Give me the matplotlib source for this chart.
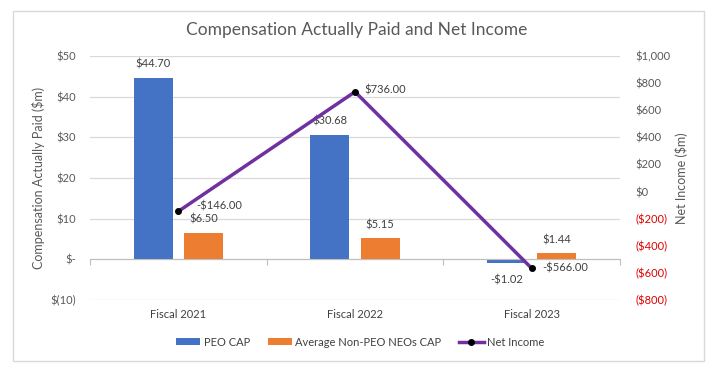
import matplotlib.pyplot as plt
import numpy as np
from matplotlib.patches import Rectangle

plt.rcParams['font.family'] = ['Lato', 'DejaVu Sans']

categories = ['Fiscal 2021', 'Fiscal 2022', 'Fiscal 2023']
peo_cap = [44.70, 30.68, -1.02]
neo_cap = [6.50, 5.15, 1.44]
net_income = [-146.00, 736.00, -566.00]

left_ticks = [-10, 0, 10, 20, 30, 40, 50]
left_labels = ['$(10)', '$-', '$10', '$20', '$30', '$40', '$50']
right_ticks = [-800, -600, -400, -200, 0, 200, 400, 600, 800, 1000]
right_labels = ['($800)', '($600)', '($400)', '($200)', '$0', '$200', '$400', '$600', '$800', '$1,000']

blue = '#4472C4'
orange = '#ED7D31'
purple = '#7030A0'
grey = '#595959'
red = '#E00000'

fig = plt.figure(figsize=(7.14, 3.68), dpi=100)
fig.patches.append(Rectangle((13 / 714, 1 - 361 / 368), 691 / 714, 350 / 368,
                             transform=fig.transFigure, fill=False,
                             edgecolor='#D9D9D9', lw=1))
ax1 = fig.add_axes([90 / 714, 1 - 300 / 368, 530 / 714, 244 / 368])
ax2 = ax1.twinx()

x = np.arange(len(categories))
w = 0.22
off = 0.142

b1 = ax1.bar(x - off, peo_cap, w, color=blue, label='PEO CAP', zorder=2)
b2 = ax1.bar(x + off, neo_cap, w, color=orange, label='Average Non-PEO NEOs CAP', zorder=2)
ln, = ax2.plot(x, net_income, color=purple, lw=2.5, marker='o', ms=4,
               mfc='black', mec='black', label='Net Income', zorder=3)

# data labels
for xi, v in zip(x - off, peo_cap):
    txt = '-$%.2f' % abs(v) if v < 0 else '$%.2f' % v
    ax1.annotate(txt, (xi, v), xytext=(0, 10 if v >= 0 else -12), textcoords='offset points',
                 ha='center', va='center', fontsize=8, color='#404040')
for xi, v in zip(x + off, neo_cap):
    ax1.annotate('$%.2f' % v, (xi, v), xytext=(0, 10), textcoords='offset points',
                 ha='center', va='center', fontsize=8, color='#404040')
ni_offsets = [(13, 4), (7, 1), (8, 0)]
for xi, v, o in zip(x, net_income, ni_offsets):
    txt = '-$%.2f' % abs(v) if v < 0 else '$%.2f' % v
    ax2.annotate(txt, (xi, v), xytext=o, textcoords='offset points',
                 ha='left', va='center', fontsize=8, color='#404040')

# axes
ax1.set_xlim(-0.5, 2.5)
ax1.set_ylim(-10, 50)
ax2.set_ylim(-800, 1000)
ax1.set_yticks(left_ticks)
ax1.set_yticklabels(left_labels)
ax2.set_yticks(right_ticks)
ax2.set_yticklabels(right_labels)
for lbl, v in zip(ax2.get_yticklabels(), right_ticks):
    lbl.set_color(red if v < 0 else grey)
ax1.tick_params(axis='y', length=0, pad=10, labelsize=8, labelcolor=grey)
ax2.tick_params(axis='y', length=0, pad=11, labelsize=8)
ax1.grid(axis='y', color='#D9D9D9', lw=0.9, zorder=0)
ax1.set_axisbelow(True)
for a in (ax1, ax2):
    for s in a.spines.values():
        s.set_visible(False)

# category axis at zero with division ticks
ax1.spines['bottom'].set_visible(True)
ax1.spines['bottom'].set_position(('data', 0))
ax1.spines['bottom'].set_color('#BFBFBF')
ax1.set_xticks([-0.5, 0.5, 1.5, 2.5])
ax1.set_xticklabels([])
ax1.tick_params(axis='x', length=4, color='#BFBFBF', direction='out')
for xi, c in zip(x, categories):
    ax1.text(xi, -0.06, c, transform=ax1.get_xaxis_transform(), ha='center', va='center',
             fontsize=8, color='#404040')

ax1.set_ylabel('Compensation Actually Paid ($m)', fontsize=9, color=grey, labelpad=4)
ax2.set_ylabel('Net Income ($m)', fontsize=9, color=grey, labelpad=3)

fig.text(0.5, 1 - 30 / 368, 'Compensation Actually Paid and Net Income', ha='center',
         va='center', fontsize=12.5, color=grey)

fig.legend(handles=[b1, b2, ln], loc='center', bbox_to_anchor=(360 / 714, 1 - 342 / 368),
           ncol=3, frameon=False, fontsize=8, handlelength=2.2, handleheight=0.5,
           columnspacing=1.6, handletextpad=0.3, labelcolor='#404040')

fig.savefig('out.png', dpi=100)
